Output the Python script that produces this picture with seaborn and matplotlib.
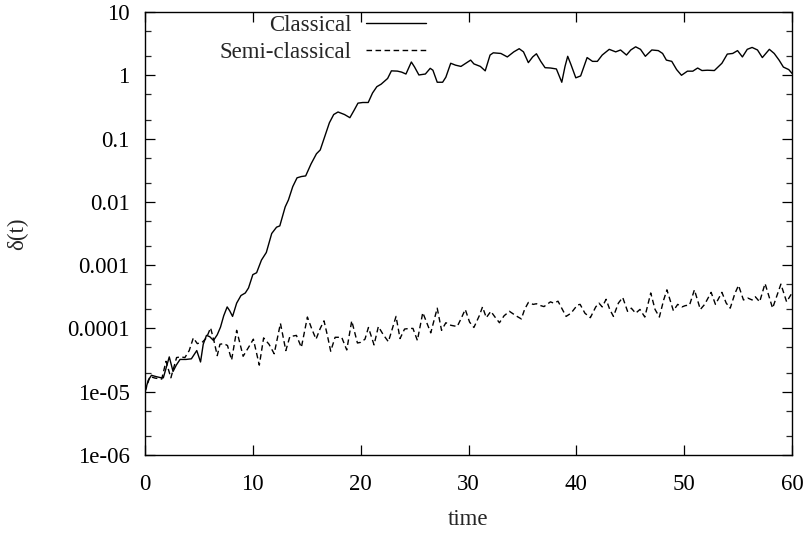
import numpy as np
import pandas as pd
import matplotlib
matplotlib.use("Agg")
import matplotlib.pyplot as plt
import seaborn as sns
from matplotlib.ticker import FixedLocator, FixedFormatter

# ---- data (values stored as log10 of delta(t)) ----
classical_t = [0.0, 0.3, 0.6, 1.0, 1.5, 1.7, 2.0, 2.25, 2.6, 2.9, 3.25, 3.8, 4.3, 4.8, 5.15, 5.4,
               5.7, 6.0, 6.35, 6.7, 7.0, 7.3, 7.62, 7.85, 8.12, 8.5, 8.9, 9.3, 9.6, 10.0, 10.35,
               10.8, 11.25, 11.75, 12.2, 12.5, 13.0, 13.3, 13.7, 14.1, 14.5, 14.9, 15.4, 15.9,
               16.25, 16.7, 17.1, 17.5, 17.9, 18.5, 19.0, 19.4, 19.75, 20.2, 20.7, 21.1, 21.5,
               21.9, 22.5, 22.85, 23.4, 23.8, 24.2, 24.7, 25.0, 25.4, 26.0, 26.45, 26.7, 27.1,
               27.6, 27.9, 28.35, 28.8, 29.3, 29.75, 30.2, 30.5, 31.1, 31.55, 32.0, 32.3, 33.0,
               33.6, 34.2, 34.7, 35.1, 35.55, 35.95, 36.3, 36.7, 37.1, 37.6, 38.15, 38.65, 38.95,
               39.2, 39.5, 39.95, 40.4, 41.0, 41.5, 41.95, 42.4, 43.05, 43.65, 44.1, 44.65, 45.05,
               45.5, 45.95, 46.4, 47.0, 47.6, 48.0, 48.35, 48.85, 49.3, 49.75, 50.3, 50.8, 51.25,
               51.65, 52.15, 52.8, 53.2, 53.5, 54.0, 54.5, 54.95, 55.4, 55.85, 56.3, 56.8, 57.25,
               57.9, 58.35, 58.8, 59.2, 59.7, 60.0]
classical_log10 = [-5.0, -4.82, -4.74, -4.76, -4.78, -4.78, -4.60, -4.45, -4.68, -4.58, -4.49, -4.49,
                   -4.48, -4.35, -4.53, -4.25, -4.11, -4.13, -4.19, -4.10, -3.98, -3.80, -3.66, -3.72,
                   -3.81, -3.60, -3.48, -3.44, -3.36, -3.15, -3.12, -2.92, -2.80, -2.50, -2.40, -2.38,
                   -2.08, -1.97, -1.76, -1.62, -1.60, -1.59, -1.40, -1.24, -1.18, -0.95, -0.75, -0.62,
                   -0.58, -0.62, -0.67, -0.55, -0.44, -0.43, -0.43, -0.28, -0.18, -0.14, -0.05, 0.07,
                   0.066, 0.05, 0.02, 0.21, 0.13, 0.005, 0.02, 0.11, 0.08, -0.11, -0.11, -0.03, 0.19,
                   0.16, 0.14, 0.19, 0.24, 0.18, 0.14, 0.07, 0.32, 0.355, 0.345, 0.29, 0.37, 0.42,
                   0.37, 0.20, 0.29, 0.34, 0.22, 0.12, 0.115, 0.10, -0.11, 0.14, 0.30, 0.17, -0.04,
                   -0.01, 0.28, 0.22, 0.22, 0.32, 0.41, 0.37, 0.40, 0.32, 0.40, 0.45, 0.41, 0.30, 0.40,
                   0.39, 0.345, 0.24, 0.22, 0.09, 0.0, 0.065, 0.065, 0.115, 0.075, 0.08, 0.075, 0.14,
                   0.19, 0.335, 0.345, 0.39, 0.29, 0.41, 0.44, 0.40, 0.28, 0.41, 0.345, 0.24, 0.13,
                   0.09, 0.03]

semi_t = [0.0, 0.46, 0.93, 1.55, 1.95, 2.4, 2.93, 3.3, 3.7, 4.1, 4.48, 4.85, 5.3, 5.7, 6.08, 6.4,
          6.7, 6.95, 7.3, 7.65, 8.03, 8.5, 9.1, 9.6, 10.05, 10.6, 11.0, 11.5, 11.98, 12.56, 13.06,
          13.43, 14.04, 14.5, 15.06, 15.45, 15.86, 16.25, 16.6, 16.9, 17.22, 17.63, 18.24, 18.71,
          19.17, 19.7, 20.0, 20.4, 20.72, 21.24, 21.64, 22.1, 22.57, 23.28, 23.65, 24.07, 24.5,
          24.85, 25.26, 25.76, 26.5, 27.1, 27.5, 27.9, 28.36, 28.95, 29.3, 29.7, 30.1, 30.5, 31.0,
          31.3, 31.65, 32.07, 32.5, 32.87, 33.3, 33.8, 34.4, 34.9, 35.2, 35.55, 36.0, 36.3, 36.7,
          37.0, 37.6, 37.9, 38.3, 38.7, 39.05, 39.5, 40.1, 40.35, 40.8, 41.3, 41.8, 42.1, 42.4,
          42.76, 43.1, 43.44, 43.9, 44.3, 44.75, 45.1, 45.5, 45.9, 46.35, 46.9, 47.3, 47.7, 48.1,
          48.4, 49.0, 49.4, 49.8, 50.1, 50.5, 50.95, 51.5, 51.9, 52.5, 52.9, 53.5, 53.9, 54.27,
          54.7, 55.04, 55.5, 55.9, 56.3, 56.6, 57.0, 57.5, 58.2, 58.97, 59.5, 60.0]
semi_log10 = [-5.0, -4.76, -4.785, -4.80, -4.52, -4.78, -4.46, -4.45, -4.46, -4.35, -4.15, -4.24,
              -4.22, -4.15, -3.99, -4.20, -4.43, -4.25, -4.24, -4.27, -4.50, -4.03, -4.44, -4.30,
              -4.17, -4.58, -4.15, -4.25, -4.40, -3.92, -4.35, -4.13, -4.11, -4.30, -3.82, -4.00,
              -4.17, -4.00, -3.88, -4.10, -4.36, -4.14, -4.14, -4.34, -3.88, -4.23, -4.22, -4.17,
              -3.985, -4.26, -3.97, -4.10, -4.21, -3.81, -4.16, -4.01, -4.00, -4.00, -4.19, -3.75,
              -4.07, -3.68, -4.03, -3.91, -3.95, -3.97, -3.85, -3.70, -3.90, -3.985, -3.80, -3.66,
              -3.83, -3.73, -3.83, -3.91, -3.80, -3.73, -3.80, -3.85, -3.70, -3.59, -3.62, -3.61,
              -3.64, -3.655, -3.58, -3.60, -3.57, -3.70, -3.81, -3.76, -3.63, -3.62, -3.76, -3.83,
              -3.66, -3.60, -3.66, -3.54, -3.70, -3.81, -3.60, -3.51, -3.73, -3.68, -3.76, -3.70,
              -3.82, -3.44, -3.70, -3.82, -3.55, -3.39, -3.72, -3.62, -3.66, -3.64, -3.63, -3.39,
              -3.70, -3.62, -3.43, -3.62, -3.43, -3.60, -3.68, -3.45, -3.32, -3.55, -3.52, -3.55,
              -3.50, -3.58, -3.29, -3.68, -3.30, -3.58, -3.44]

series_names = ["Classical", "Semi-classical"]
x_ticks = [0, 10, 20, 30, 40, 50, 60]
y_ticks = [1e-6, 1e-5, 1e-4, 1e-3, 1e-2, 1e-1, 1, 10]
y_tick_labels = ["1e-06", "1e-05", "0.0001", "0.001", "0.01", "0.1", "1", "10"]

df = pd.concat([
    pd.DataFrame({"time": classical_t, "delta": np.power(10.0, classical_log10), "series": series_names[0]}),
    pd.DataFrame({"time": semi_t, "delta": np.power(10.0, semi_log10), "series": series_names[1]}),
])

sns.set_theme(style="ticks")
plt.rcParams["font.family"] = ["Liberation Serif", "DejaVu Serif"]
FS = 16.5
plt.rcParams["font.size"] = FS

W, H = 806, 542
fig = plt.figure(figsize=(W / 100, H / 100), dpi=100)
ax = fig.add_axes([145 / W, (H - 455) / H, (792 - 145) / W, (455 - 12) / H])

sns.lineplot(data=df, x="time", y="delta", hue="series", style="series",
             palette=["black", "black"], dashes={"Classical": "", "Semi-classical": (4, 2.5)},
             linewidth=1.0, ax=ax, legend=True, sort=False)
for ln in ax.get_lines():
    ln.set_solid_joinstyle("round")
    ln.set_dash_joinstyle("round")

ax.set_yscale("log")
ax.set_xlim(0, 60)
ax.set_ylim(1e-6, 10)
ax.set_xticks(x_ticks)
ax.set_xticklabels([str(v) for v in x_ticks])
ax.yaxis.set_major_locator(FixedLocator(y_ticks))
ax.yaxis.set_major_formatter(FixedFormatter(y_tick_labels))
minor = [m * 10.0 ** e for e in range(-6, 1) for m in (2, 5)]
ax.yaxis.set_minor_locator(FixedLocator(minor))
ax.yaxis.set_minor_formatter(FixedFormatter([""] * len(minor)))

ax.tick_params(axis="y", which="major", direction="in", length=7, width=0.9,
               right=True, labelsize=FS, colors="black", pad=11)
ax.tick_params(axis="x", which="major", direction="in", length=7, width=0.9,
               top=True, labelsize=FS, colors="black", pad=14)
ax.tick_params(axis="y", which="minor", direction="in", length=4, width=0.9, right=True, left=True)
ax.tick_params(axis="x", which="minor", bottom=False, top=False)
for s in ax.spines.values():
    s.set_visible(True)
    s.set_linewidth(1.0)
    s.set_color("black")

ax.set_xlabel("time", fontsize=FS, labelpad=10)
ax.set_ylabel("δ(t)", fontsize=FS, labelpad=28)

handles, labels = ax.get_legend_handles_labels()
leg = ax.legend(handles, labels, loc="upper right", bbox_to_anchor=(0.466, 1.039), frameon=False,
                markerfirst=False, handlelength=2.6, handletextpad=0.65, labelspacing=0.25,
                fontsize=FS)
for t in leg.get_texts():
    t.set_ha("right")

fig.savefig("out.png", dpi=100, facecolor="white")
